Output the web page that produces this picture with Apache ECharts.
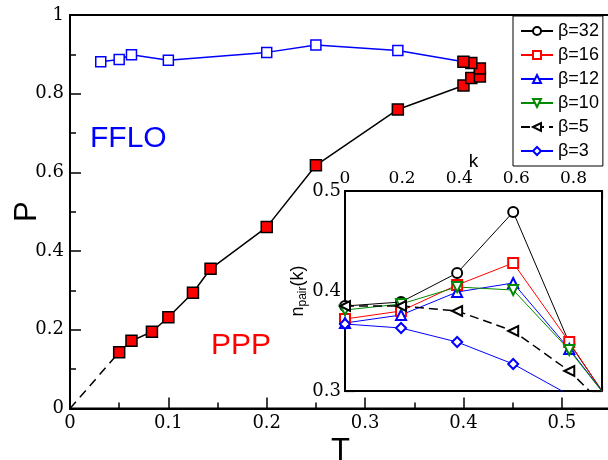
<!DOCTYPE html>
<html><head><meta charset="utf-8">
<script src="https://cdn.jsdelivr.net/npm/echarts@6/dist/echarts.min.js"></script>
<style>html,body{margin:0;padding:0;background:#fff}#c{width:608px;height:460px}</style>
</head><body><div id="c"></div><script>
// Main panel: phase diagram P vs T
const T_ppp = [0.05, 0.0625, 0.0833, 0.1, 0.125, 0.1429, 0.2, 0.25, 0.3333, 0.4, 0.408, 0.4167, 0.4167, 0.408, 0.4];
const P_ppp = [0.143, 0.172, 0.195, 0.232, 0.294, 0.355, 0.461, 0.618, 0.760, 0.821, 0.840, 0.844, 0.864, 0.878, 0.881];
const T_fflo = [0.03125, 0.05, 0.0625, 0.1, 0.2, 0.25, 0.3333, 0.4];
const P_fflo = [0.881, 0.887, 0.899, 0.885, 0.905, 0.924, 0.910, 0.881];
const T_extrap = [0, 0.05];
const P_extrap = [0, 0.143];
// Inset: n_pair(k)
const kValues = [0, 0.1963, 0.3927, 0.5890, 0.7854, 0.9817];
const betaNames = ['β=32', 'β=16', 'β=12', 'β=10', 'β=5', 'β=3'];
const npair_b32 = [0.385, 0.389, 0.418, 0.479, 0.348, 0.266];
const npair_b16 = [0.372, 0.380, 0.406, 0.428, 0.349, 0.265];
const npair_b12 = [0.368, 0.376, 0.399, 0.408, 0.342, 0.270];
const npair_b10 = [0.381, 0.387, 0.404, 0.401, 0.341, 0.270];
const npair_b5  = [0.385, 0.385, 0.380, 0.360, 0.320, 0.265];
const npair_b3  = [0.367, 0.363, 0.349, 0.327, 0.296, 0.270];

const zip = (a, b) => a.map((v, i) => [v, b[i]]);
const sans = "Liberation Sans";
const serif = "DejaVu Serif";

const insetStyles = [
  { color: '#000', symbol: 'emptyCircle', rot: 0, dash: 'solid', w: 1 },
  { color: '#ff0000', symbol: 'emptyRect', rot: 0, dash: 'solid', w: 1 },
  { color: '#0000ff', symbol: 'emptyTriangle', rot: 0, dash: 'solid', w: 1 },
  { color: '#008a00', symbol: 'emptyTriangle', rot: 180, dash: 'solid', w: 1 },
  { color: '#000', symbol: 'emptyTriangle', rot: 90, dash: [9, 5], w: 1.5 },
  { color: '#0000ff', symbol: 'emptyDiamond', rot: 0, dash: 'solid', w: 1 }
];
const insetData = [npair_b32, npair_b16, npair_b12, npair_b10, npair_b5, npair_b3];

const insetSeries = insetData.map((d, i) => ({
  name: betaNames[i], type: 'line', xAxisIndex: 1, yAxisIndex: 1,
  data: zip(kValues, d), clip: true,
  symbol: insetStyles[i].symbol, symbolRotate: insetStyles[i].rot, symbolSize: 10,
  itemStyle: { color: insetStyles[i].color, borderWidth: 1 },
  lineStyle: { color: insetStyles[i].color, width: insetStyles[i].w, type: insetStyles[i].dash },
  z: 5, animation: false
}));

function axisCommon(o) {
  return Object.assign({
    type: 'value',
    nameMoveOverlap: false,
    splitLine: { show: false },
    axisLine: { show: true, onZero: false, lineStyle: { color: '#000', width: 2 } },
    axisTick: { show: true, inside: true, length: 11, lineStyle: { color: '#000', width: 1.5 } },
    minorTick: { show: true, splitNumber: 2, length: 6, lineStyle: { color: '#000', width: 1.5 } }
  }, o);
}

const option = {
  animation: false,
  backgroundColor: '#fff',
  grid: [
    { left: 70, top: 15, right: -3, bottom: 51.5, outerBoundsMode: 'none', containLabel: false,
      show: true, borderColor: '#000', borderWidth: 2, backgroundColor: 'transparent' },
    { left: 345, top: 191, right: 6, bottom: 69, outerBoundsMode: 'none', containLabel: false,
      show: true, borderColor: '#000', borderWidth: 2, backgroundColor: '#fff', z: 1 }
  ],
  legend: {
    orient: 'vertical', left: 513, top: 16,
    data: betaNames,
    itemWidth: 32, itemHeight: 10, itemGap: 6,
    padding: [6, 4, 6, 7],
    borderColor: '#000', borderWidth: 1, backgroundColor: '#fff',
    textStyle: { color: '#000', fontFamily: sans, fontSize: 18 }
  },
  xAxis: [
    axisCommon({ gridIndex: 0, min: 0, max: 0.55, interval: 0.1,
      axisLabel: { color: '#000', fontFamily: serif, fontSize: 18, margin: 6, showMaxLabel: false },
      name: 'T', nameLocation: 'middle', nameGap: 27,
      nameTextStyle: { color: '#000', fontFamily: sans, fontSize: 31 } }),
    axisCommon({ gridIndex: 1, position: 'top', min: 0, max: 0.9, interval: 0.2,
      axisTick: { show: true, inside: true, length: 8, lineStyle: { color: '#000', width: 1.2 } },
      minorTick: { show: true, splitNumber: 2, length: 5, lineStyle: { color: '#000', width: 1.2 } },
      axisLabel: { color: '#000', fontFamily: serif, fontSize: 17, margin: 4, showMaxLabel: false },
      name: 'k', nameLocation: 'middle', nameGap: 20,
      nameTextStyle: { color: '#000', fontFamily: sans, fontSize: 19 } }),
    axisCommon({ gridIndex: 1, position: 'bottom', min: 0, max: 0.9, interval: 0.2,
      axisTick: { show: true, inside: true, length: 6, lineStyle: { color: '#000', width: 1.2 } },
      minorTick: { show: true, splitNumber: 2, length: 5, lineStyle: { color: '#000', width: 1.2 } },
      axisLabel: { show: false } })
  ],
  yAxis: [
    axisCommon({ gridIndex: 0, min: 0, max: 1, interval: 0.2,
      axisLabel: { color: '#000', fontFamily: serif, fontSize: 18, margin: 6 },
      name: 'P', nameLocation: 'middle', nameGap: 27,
      nameTextStyle: { color: '#000', fontFamily: sans, fontSize: 31 } }),
    axisCommon({ gridIndex: 1, position: 'left', min: 0.3, max: 0.5, interval: 0.1,
      axisTick: { show: true, inside: true, length: 10, lineStyle: { color: '#000', width: 1.2 } },
      minorTick: { show: true, splitNumber: 2, length: 5, lineStyle: { color: '#000', width: 1.2 } },
      axisLabel: { color: '#000', fontFamily: serif, fontSize: 18, margin: 4 },
      name: '{n|n}{s|pair}{n|(k)}', nameLocation: 'middle', nameGap: 36,
      nameTextStyle: { color: '#000', fontFamily: sans, fontSize: 18,
        rich: { n: { fontFamily: sans, fontSize: 18, color: '#000' },
                s: { fontFamily: sans, fontSize: 12, color: '#000', padding: [10, 0, 0, 0] } } } }),
    axisCommon({ gridIndex: 1, position: 'right', min: 0.3, max: 0.5, interval: 0.1,
      axisTick: { show: true, inside: true, length: 10, lineStyle: { color: '#000', width: 1.2 } },
      minorTick: { show: true, splitNumber: 2, length: 5, lineStyle: { color: '#000', width: 1.2 } },
      axisLabel: { show: false } })
  ],
  graphic: [
    { type: 'text', left: 90, top: 124, style: { text: 'FFLO', fill: '#0000ff', font: "30px 'Liberation Sans'" }, z: 10 },
    { type: 'text', left: 211, top: 331, style: { text: 'PPP', fill: '#ff0000', font: "30px 'Liberation Sans'" }, z: 10 }
  ],
  series: [
    { type: 'line', xAxisIndex: 0, yAxisIndex: 0, data: zip(T_extrap, P_extrap), symbol: 'none',
      lineStyle: { color: '#000', width: 1.5, type: [9, 6] }, z: 2 },
    { type: 'line', xAxisIndex: 0, yAxisIndex: 0, data: zip(T_fflo, P_fflo), symbol: 'rect', symbolSize: 10,
      itemStyle: { color: '#fff', borderColor: '#0000ff', borderWidth: 1.5 },
      lineStyle: { color: '#0000ff', width: 1.5 }, z: 2 },
    { type: 'line', xAxisIndex: 0, yAxisIndex: 0, data: zip(T_ppp, P_ppp), symbol: 'rect', symbolSize: 11,
      itemStyle: { color: '#ff0000', borderColor: '#000', borderWidth: 1.5 },
      lineStyle: { color: '#000', width: 1.5 }, z: 3 },
    ...insetSeries
  ]
};
const chart = echarts.init(document.getElementById('c'), null, { renderer: 'canvas' });
chart.setOption(option);
</script></body></html>
